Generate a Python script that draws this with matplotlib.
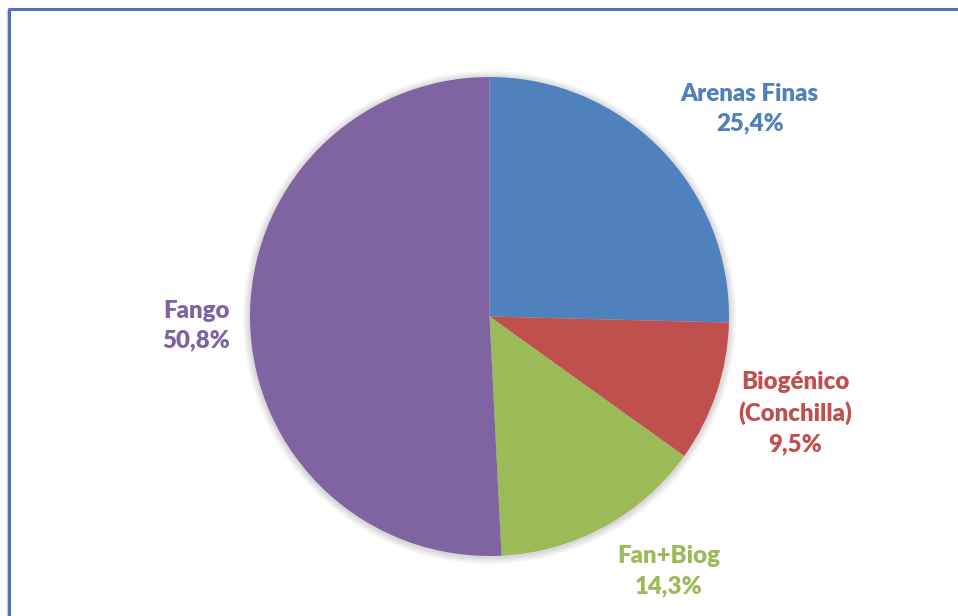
import matplotlib.pyplot as plt
import numpy as np
from matplotlib.patches import Circle

# data
labels = ["Arenas Finas", "Biogénico\n(Conchilla)", "Fan+Biog", "Fango"]
values = [25.4, 9.5, 14.3, 50.8]
colors = ["#4F81BD", "#C0504D", "#9BBB59", "#8064A2"]
pct_text = ["25,4%", "9,5%", "14,3%", "50,8%"]
# label placement: distance (in radii) and angle shift (deg) from wedge middle
lab_dist = [1.39, 1.34, 1.30, 1.225]
lab_shift = [-5.7, 1.0, 6.5, 0.4]

W, H = 958, 616
fig = plt.figure(figsize=(W / 100, H / 100), dpi=100)
ax = fig.add_axes([0, 0, 1, 1])

cx, cy, r = 489.5, H - 316.5, 239.5

# soft shadow around pie
for k in range(8):
    ax.add_patch(Circle((cx, cy - 1), r + 1 + k * 0.9, color="black",
                        alpha=0.018, lw=0, zorder=1))

wedges, _ = ax.pie(values, colors=colors, startangle=90, counterclock=False,
                   center=(cx, cy), radius=r, frame=True,
                   wedgeprops=dict(linewidth=0, zorder=2))
ax.set_xlim(0, W)
ax.set_ylim(0, H)
ax.axis("off")

for i, w in enumerate(wedges):
    mid = (w.theta1 + w.theta2) / 2 + lab_shift[i]
    x = cx + lab_dist[i] * r * np.cos(np.radians(mid))
    y = cy + lab_dist[i] * r * np.sin(np.radians(mid))
    ax.text(x, y, labels[i] + "\n" + pct_text[i], ha="center", va="center",
            color=colors[i], fontsize=17.3, fontweight="heavy", family="Lato",
            linespacing=1.42)

# chart frame (cropped at right and bottom)
ax.plot([9, 9, W + 5], [-5, H - 9, H - 9], color="#4F6FBF", lw=2.2,
        solid_capstyle="butt", zorder=5)
ax.plot([7.3, 7.3], [-5, H - 10], color="#D0D0D0", lw=1, zorder=4)

fig.savefig("out.png", dpi=100)
